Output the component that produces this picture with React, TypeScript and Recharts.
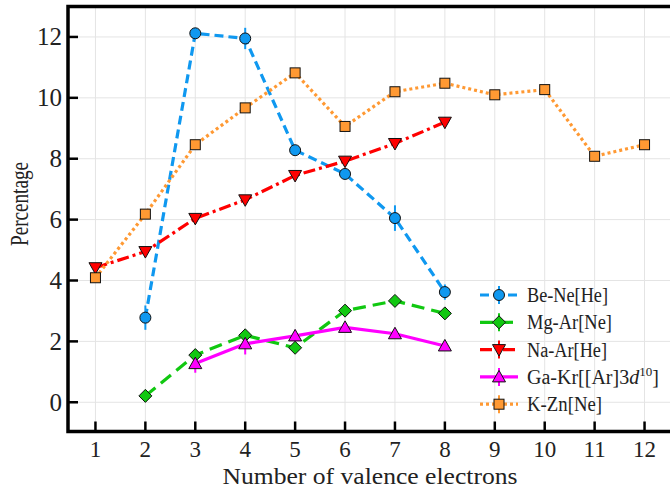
import React from "react";
import {
  LineChart,
  Line,
  XAxis,
  YAxis,
  CartesianGrid,
  ErrorBar,
  ReferenceArea,
  Legend,
  Label,
} from "recharts";

const FONT = "Liberation Serif, Times New Roman, DejaVu Serif, serif";
const TEXT = "#222";
const textStyle = { fontFamily: FONT };

// tick labels
const ELECTRONS = [1, 2, 3, 4, 5, 6, 7, 8, 9, 10, 11, 12];
const PERCENT_TICKS = [0, 2, 4, 6, 8, 10, 12];

// Be-Ne[He]
const beNeX = [2, 3, 4, 5, 6, 7, 8];
const beNeY = [2.78, 12.12, 11.95, 8.28, 7.5, 6.05, 3.62];
const beNeErr = [0.4, 0.12, 0.35, 0.12, 0.12, 0.42, 0.25];

// Mg-Ar[Ne]
const mgArX = [2, 3, 4, 5, 6, 7, 8];
const mgArY = [0.21, 1.55, 2.2, 1.79, 3.01, 3.33, 2.92];
const mgArErr = [0.2, 0.1, 0.1, 0.1, 0.1, 0.1, 0.1];

// Na-Ar[He]
const naArX = [1, 2, 3, 4, 5, 6, 7, 8];
const naArY = [4.42, 4.95, 6.04, 6.65, 7.45, 7.92, 8.5, 9.2];
const naArErr = [0.12, 0.1, 0.1, 0.1, 0.1, 0.1, 0.1, 0.15];

// Ga-Kr[[Ar]3d10]
const gaKrX = [3, 4, 5, 6, 7, 8];
const gaKrY = [1.27, 1.92, 2.18, 2.46, 2.25, 1.85];
const gaKrErr = [0.3, 0.35, 0.2, 0.1, 0.1, 0.1];

// K-Zn[Ne]
const kZnX = [1, 2, 3, 4, 5, 6, 7, 8, 9, 10, 11, 12];
const kZnY = [4.09, 6.18, 8.46, 9.67, 10.82, 9.06, 10.2, 10.48, 10.1, 10.27, 8.08, 8.46];
const kZnErr = [0.15, 0.1, 0.1, 0.1, 0.1, 0.1, 0.1, 0.1, 0.1, 0.1, 0.1, 0.1];

type MarkerKind = "circle" | "diamond" | "triDown" | "triUp" | "square";

const toPoints = (xs: number[], ys: number[], errs: number[]) =>
  xs.map((x, i) => ({ x, y: ys[i], err: errs[i] }));

const SERIES = [
  { name: "Be-Ne[He]", color: "#0f98f0", dash: "9 5", marker: "circle" as MarkerKind, points: toPoints(beNeX, beNeY, beNeErr), textLen: 81 },
  { name: "Mg-Ar[Ne]", color: "#11c811", dash: "13 7", marker: "diamond" as MarkerKind, points: toPoints(mgArX, mgArY, mgArErr), textLen: 85 },
  { name: "Na-Ar[He]", color: "#ff0000", dash: "12 4 3 4", marker: "triDown" as MarkerKind, points: toPoints(naArX, naArY, naArErr), textLen: 80 },
  { name: "Ga-Kr", color: "#ff00ff", dash: undefined, marker: "triUp" as MarkerKind, points: toPoints(gaKrX, gaKrY, gaKrErr), textLen: 126 },
  { name: "K-Zn[Ne]", color: "#ff9933", dash: "3 3", marker: "square" as MarkerKind, points: toPoints(kZnX, kZnY, kZnErr), textLen: 75 },
];

function Marker({ kind, cx, cy, fill }: { kind: MarkerKind; cx: number; cy: number; fill: string }) {
  const edge = { stroke: "#111", strokeWidth: 1, fill };
  if (kind === "circle") return <circle cx={cx} cy={cy} r={5.5} {...edge} />;
  if (kind === "square") return <rect x={cx - 5} y={cy - 5} width={10} height={10} {...edge} />;
  if (kind === "diamond")
    return <polygon points={`${cx},${cy - 6.5} ${cx + 6.5},${cy} ${cx},${cy + 6.5} ${cx - 6.5},${cy}`} {...edge} />;
  if (kind === "triDown")
    return <polygon points={`${cx - 6.5},${cy - 5} ${cx + 6.5},${cy - 5} ${cx},${cy + 6.5}`} {...edge} />;
  return <polygon points={`${cx - 6.5},${cy + 5} ${cx + 6.5},${cy + 5} ${cx},${cy - 6.5}`} {...edge} />;
}

const makeDot = (kind: MarkerKind, fill: string) => (props: any) => {
  const { cx, cy, index } = props;
  return <Marker key={`m-${index}`} kind={kind} cx={cx} cy={cy} fill={fill} />;
};

const XTick = (props: any) => {
  const { x, y, payload } = props;
  return (
    <g>
      <line x1={x} x2={x} y1={y} y2={y - 10} stroke="#000" strokeWidth={2.5} />
      <text x={x} y={y + 25} textAnchor="middle" fontSize={23} style={textStyle} fill={TEXT}>
        {payload.value}
      </text>
    </g>
  );
};

const YTick = (props: any) => {
  const { x, y, payload } = props;
  return (
    <g>
      <line x1={x} x2={x + 10} y1={y} y2={y} stroke="#000" strokeWidth={2.5} />
      <text x={x - 6} y={y + 8.5} textAnchor="end" fontSize={25} style={textStyle} fill={TEXT}>
        {payload.value}
      </text>
    </g>
  );
};

const LegendBox = () => (
  <svg width={200} height={145}>
    {SERIES.map((s, i) => {
      const cy = 17 + 27.3 * i;
      return (
        <g key={s.name}>
          <line x1={10} x2={48} y1={cy} y2={cy} stroke={s.color} strokeWidth={3.2} strokeDasharray={s.dash} />
          <line x1={29} x2={29} y1={cy - 9} y2={cy + 9} stroke={s.color} strokeWidth={2} />
          <Marker kind={s.marker} cx={29} cy={cy} fill={s.color} />
          {s.marker === "triUp" ? (
            <text x={57} y={cy + 7} fontSize={20} style={textStyle} fill={TEXT}>
              Ga-Kr[[Ar]3<tspan fontStyle="italic">d</tspan>
              <tspan fontSize={13} dy={-8}>10</tspan>
              <tspan dy={8}>]</tspan>
            </text>
          ) : (
            <text
              x={57}
              y={cy + 7}
              fontSize={20}
              style={textStyle}
              fill={TEXT}
              textLength={s.textLen}
              lengthAdjust="spacingAndGlyphs"
            >
              {s.name}
            </text>
          )}
        </g>
      );
    })}
  </svg>
);

export default function App() {
  return (
    <div
      style={{
        position: "absolute",
        left: 0,
        top: 0,
        width: 670,
        height: 489,
        overflow: "hidden",
        background: "#fff",
      }}
    >
      <LineChart width={672} height={489} margin={{ top: 6.5, right: 0, bottom: 0, left: 0 }}>
        <CartesianGrid stroke="#e4e4e4" strokeWidth={1} />
        <XAxis
          type="number"
          dataKey="x"
          domain={[0.45, 12.55]}
          ticks={ELECTRONS}
          interval={0}
          allowDataOverflow
          height={57.5}
          tickSize={0}
          tickMargin={0}
          axisLine={false}
          tickLine={false}
          tick={<XTick />}
        >
          <Label
            content={(p: any) => {
              const vb = p.viewBox;
              return (
                <text
                  x={vb.x + vb.width / 2}
                  y={vb.y + 52.5}
                  textAnchor="middle"
                  fontSize={24}
                  style={textStyle}
                  fill={TEXT}
                  textLength={295}
                  lengthAdjust="spacingAndGlyphs"
                >
                  Number of valence electrons
                </text>
              );
            }}
          />
        </XAxis>
        <YAxis
          type="number"
          domain={[-0.96, 13]}
          ticks={PERCENT_TICKS}
          interval={0}
          allowDataOverflow
          width={68}
          tickSize={0}
          tickMargin={0}
          axisLine={false}
          tickLine={false}
          tick={<YTick />}
        >
          <Label
            content={(p: any) => {
              const vb = p.viewBox;
              const cx = vb.x + 28;
              const cy = vb.y + vb.height / 2 - 15;
              return (
                <text
                  x={cx}
                  y={cy}
                  transform={`rotate(-90, ${cx}, ${cy})`}
                  textAnchor="middle"
                  fontSize={25}
                  style={textStyle}
                  fill={TEXT}
                  textLength={84}
                  lengthAdjust="spacingAndGlyphs"
                >
                  Percentage
                </text>
              );
            }}
          />
        </YAxis>
        <ReferenceArea
          x1={0.45}
          x2={12.55}
          y1={-0.96}
          y2={13}
          fill="none"
          stroke="#000"
          strokeWidth={3.5}
          ifOverflow="visible"
        />
        {SERIES.map((s) => (
          <Line
            key={s.name}
            data={s.points}
            dataKey="y"
            name={s.name}
            type="linear"
            stroke={s.color}
            strokeWidth={3.2}
            strokeDasharray={s.dash}
            dot={makeDot(s.marker, s.color)}
            activeDot={false}
            isAnimationActive={false}
          >
            <ErrorBar dataKey="err" direction="y" width={0} stroke={s.color} strokeWidth={2} />
          </Line>
        ))}
        <Legend
          layout="vertical"
          align="center"
          verticalAlign="middle"
          content={() => <LegendBox />}
          wrapperStyle={{ position: "absolute", left: 470, top: 278, width: 200, height: 145 }}
        />
      </LineChart>
    </div>
  );
}
